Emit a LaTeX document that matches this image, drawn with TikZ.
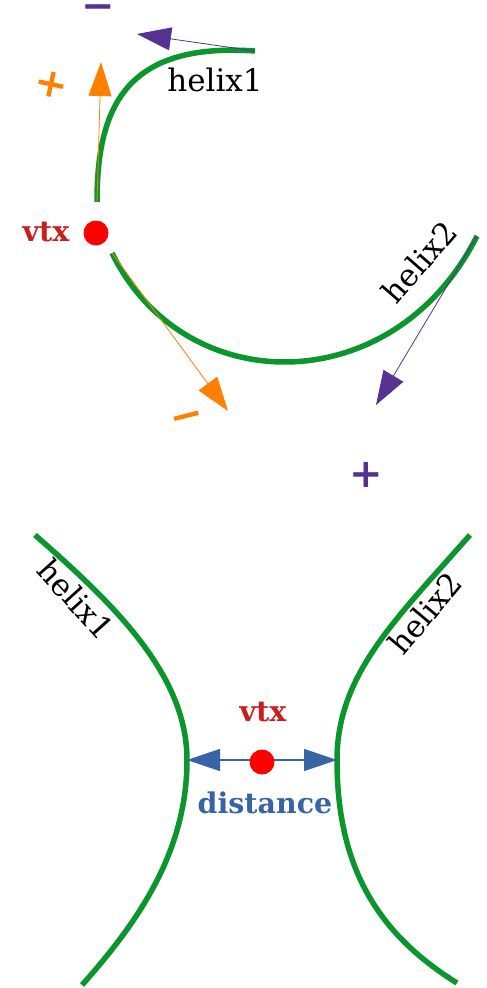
\documentclass[tikz,border=0pt]{standalone}
\usepackage{fontspec}
\setmainfont{DejaVu Serif}
\usetikzlibrary{positioning, arrows.meta}
\definecolor{HelixGreen}{RGB}{10,150,45}
\definecolor{VtxRed}{RGB}{200,30,30}
\definecolor{ChargeOrange}{RGB}{255,128,0}
\definecolor{ChargePurple}{RGB}{85,50,145}
\definecolor{DistBlue}{RGB}{55,100,165}

\begin{document}
\begin{tikzpicture}[x=1pt, y=-1pt,
    helix/.style={HelixGreen, line width=5.5pt},
    vtxdot/.style={circle, fill=red, inner sep=0pt, minimum size=25pt},
    mom/.style={-{Triangle[length=34pt,width=23pt]}, line width=0.8pt},
    helixlabel/.style={font=\fontsize{31}{33}\selectfont},
    vtxlabel/.style={font=\fontsize{28.5}{30}\selectfont\bfseries, text=VtxRed},
    sign/.style={font=\fontsize{40}{40}\selectfont\bfseries, inner sep=0pt}]
    \useasboundingbox (0,0) rectangle (487,988);

    % Oben: Vertex mit zwei Helices
    \coordinate (h1a) at (97,202);
    \coordinate (h1b) at (255,51);
    \coordinate (h2a) at (112,253);
    \coordinate (h2b) at (477,236);
    \coordinate (plusTip) at (101,62);
    \coordinate (minusTip) at (137,34);
    \coordinate (oMinusTip) at (228,411);
    \coordinate (pPlusTip) at (376,405);

    \draw[helix] (h1a) .. controls (97,108) and (125,42) .. (h1b);
    \draw[helix] (h2a) .. controls (185,402) and (395,400) .. (h2b);

    \node[vtxdot] (vtxA) at (96,233) {};
    \node[vtxlabel] (vtxAlabel) at (46,232) {vtx};
    \node[helixlabel] (h1label) at (215,80) {helix1};
    \node[helixlabel, rotate=49] (h2label) at (419,262) {helix2};

    \draw[mom, ChargeOrange] (h1a) -- (plusTip);
    \draw[mom, ChargeOrange] (h2a) -- (oMinusTip);
    \draw[mom, ChargePurple] (h1b) -- (minusTip);
    \draw[mom, ChargePurple] (h2b) -- (pPlusTip);

    \node[sign, text=ChargeOrange, rotate=-12] (oPlus) at (51,85) {+};
    \node[sign, text=ChargeOrange, rotate=14] (oMinus) at (188,421) {−};
    \node[sign, text=ChargePurple] (pMinus) at (98,12) {−};
    \node[sign, text=ChargePurple] (pPlus) at (366,475) {+};

    % Unten: Abstand zwischen den Helices
    \coordinate (l1) at (35,535);
    \coordinate (lv) at (187,760);
    \coordinate (l2) at (82,985);
    \coordinate (r1) at (470,535);
    \coordinate (rv) at (337,760);
    \coordinate (r2) at (457,983);

    \draw[helix] (l1) .. controls (115,605) and (187,675) .. (lv)
                      .. controls (187,850) and (140,920) .. (l2);
    \draw[helix] (r1) .. controls (395,620) and (337,675) .. (rv)
                      .. controls (337,870) and (380,935) .. (r2);

    \draw[DistBlue, line width=1.2pt, {Triangle[length=33pt,width=22pt]}-{Triangle[length=33pt,width=22pt]}] (lv) -- (rv);
    \node[vtxdot] (vtxB) at (262,762) {};
    \node[vtxlabel] (vtxBlabel) at (263,712) {vtx};
    \node[font=\fontsize{28.5}{30}\selectfont\bfseries, text=DistBlue] (dist) at (265,803) {distance};

    \node[helixlabel, rotate=-48] (h1labelB) at (76,599) {helix1};
    \node[helixlabel, rotate=50] (h2labelB) at (425,613) {helix2};
\end{tikzpicture}
\end{document}
